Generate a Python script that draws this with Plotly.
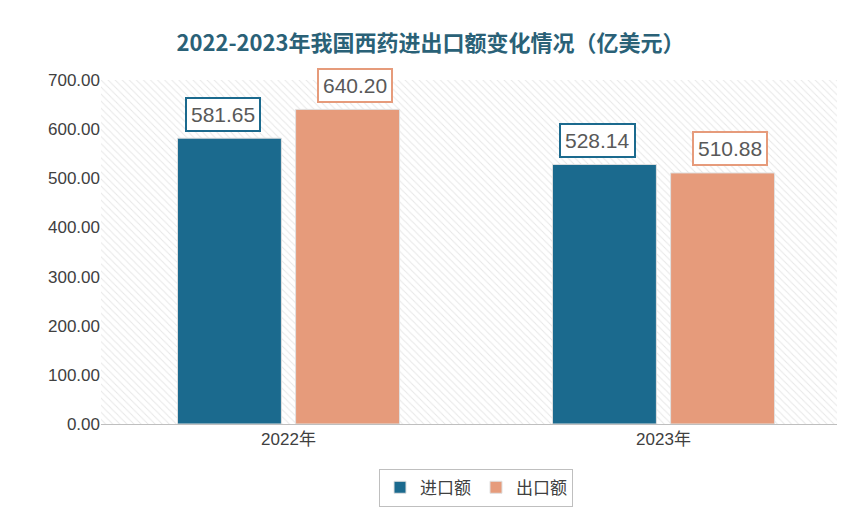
import plotly.graph_objects as go

categories = ["2022年", "2023年"]
import_vals = [581.65, 528.14]
export_vals = [640.20, 510.88]
series_names = ["进口额", "出口额"]
colors = ["#1b6a8e", "#e69b7b"]

fig = go.Figure()
# hatched background (on base axis, drawn below the overlaying one)
fig.add_trace(go.Bar(x=[0.5], y=[700], width=[1], xaxis="x", yaxis="y",
                     marker=dict(color="white", line=dict(width=0),
                                 pattern=dict(shape="\\", fgcolor="#d0d0d0", bgcolor="white", size=5, solidity=0.2)),
                     showlegend=False, hoverinfo="skip"))
for name, vals, c in zip(series_names, [import_vals, export_vals], colors):
    fig.add_trace(go.Bar(x=categories, y=vals, name=name, xaxis="x2", yaxis="y",
                         marker=dict(color=c, line=dict(color="#e0e0e0", width=1))))

shift = 66
for i, (vals, c) in enumerate(zip([import_vals, export_vals], colors)):
    for cat, v in zip(categories, vals):
        fig.add_annotation(x=cat, y=v, xref="x2", yref="y", text=f"{v:.2f}", showarrow=False,
                           xshift=(-shift if i == 0 else shift), yshift=24,
                           font=dict(size=21, color="#595959", family="Liberation Sans"),
                           bgcolor="white", bordercolor=c, borderwidth=2, borderpad=4)

fig.update_layout(
    width=845, height=507, paper_bgcolor="white", plot_bgcolor="white",
    margin=dict(l=93, r=2, t=72, b=91),
    title=dict(text="<b>2022-2023年我国西药进出口额变化情况（亿美元）</b>", x=0.5, y=0.945, xanchor="center",
               font=dict(size=22, color="#2a6177", family="Noto Sans CJK SC")),
    barmode="group", bargap=0.37, bargroupgap=0.12,
    xaxis=dict(range=[0, 1], visible=False),
    xaxis2=dict(type="category", overlaying="x", side="bottom", showgrid=False, showline=True, linecolor="#bfbfbf",
                tickfont=dict(size=17, color="#404040", family="Liberation Sans, Noto Sans CJK SC"), ticks=""),
    yaxis=dict(range=[0, 700], dtick=100, tickformat=".2f", showgrid=False, zeroline=False,
               tickfont=dict(size=17, color="#404040", family="Liberation Sans")),
    legend=dict(orientation="h", x=0.5, xanchor="center", y=-0.13, yanchor="top",
                bordercolor="#bfbfbf", borderwidth=1,
                font=dict(size=17, color="#404040", family="Noto Sans CJK SC")),
    showlegend=True,
)
fig.write_html("out.html")
